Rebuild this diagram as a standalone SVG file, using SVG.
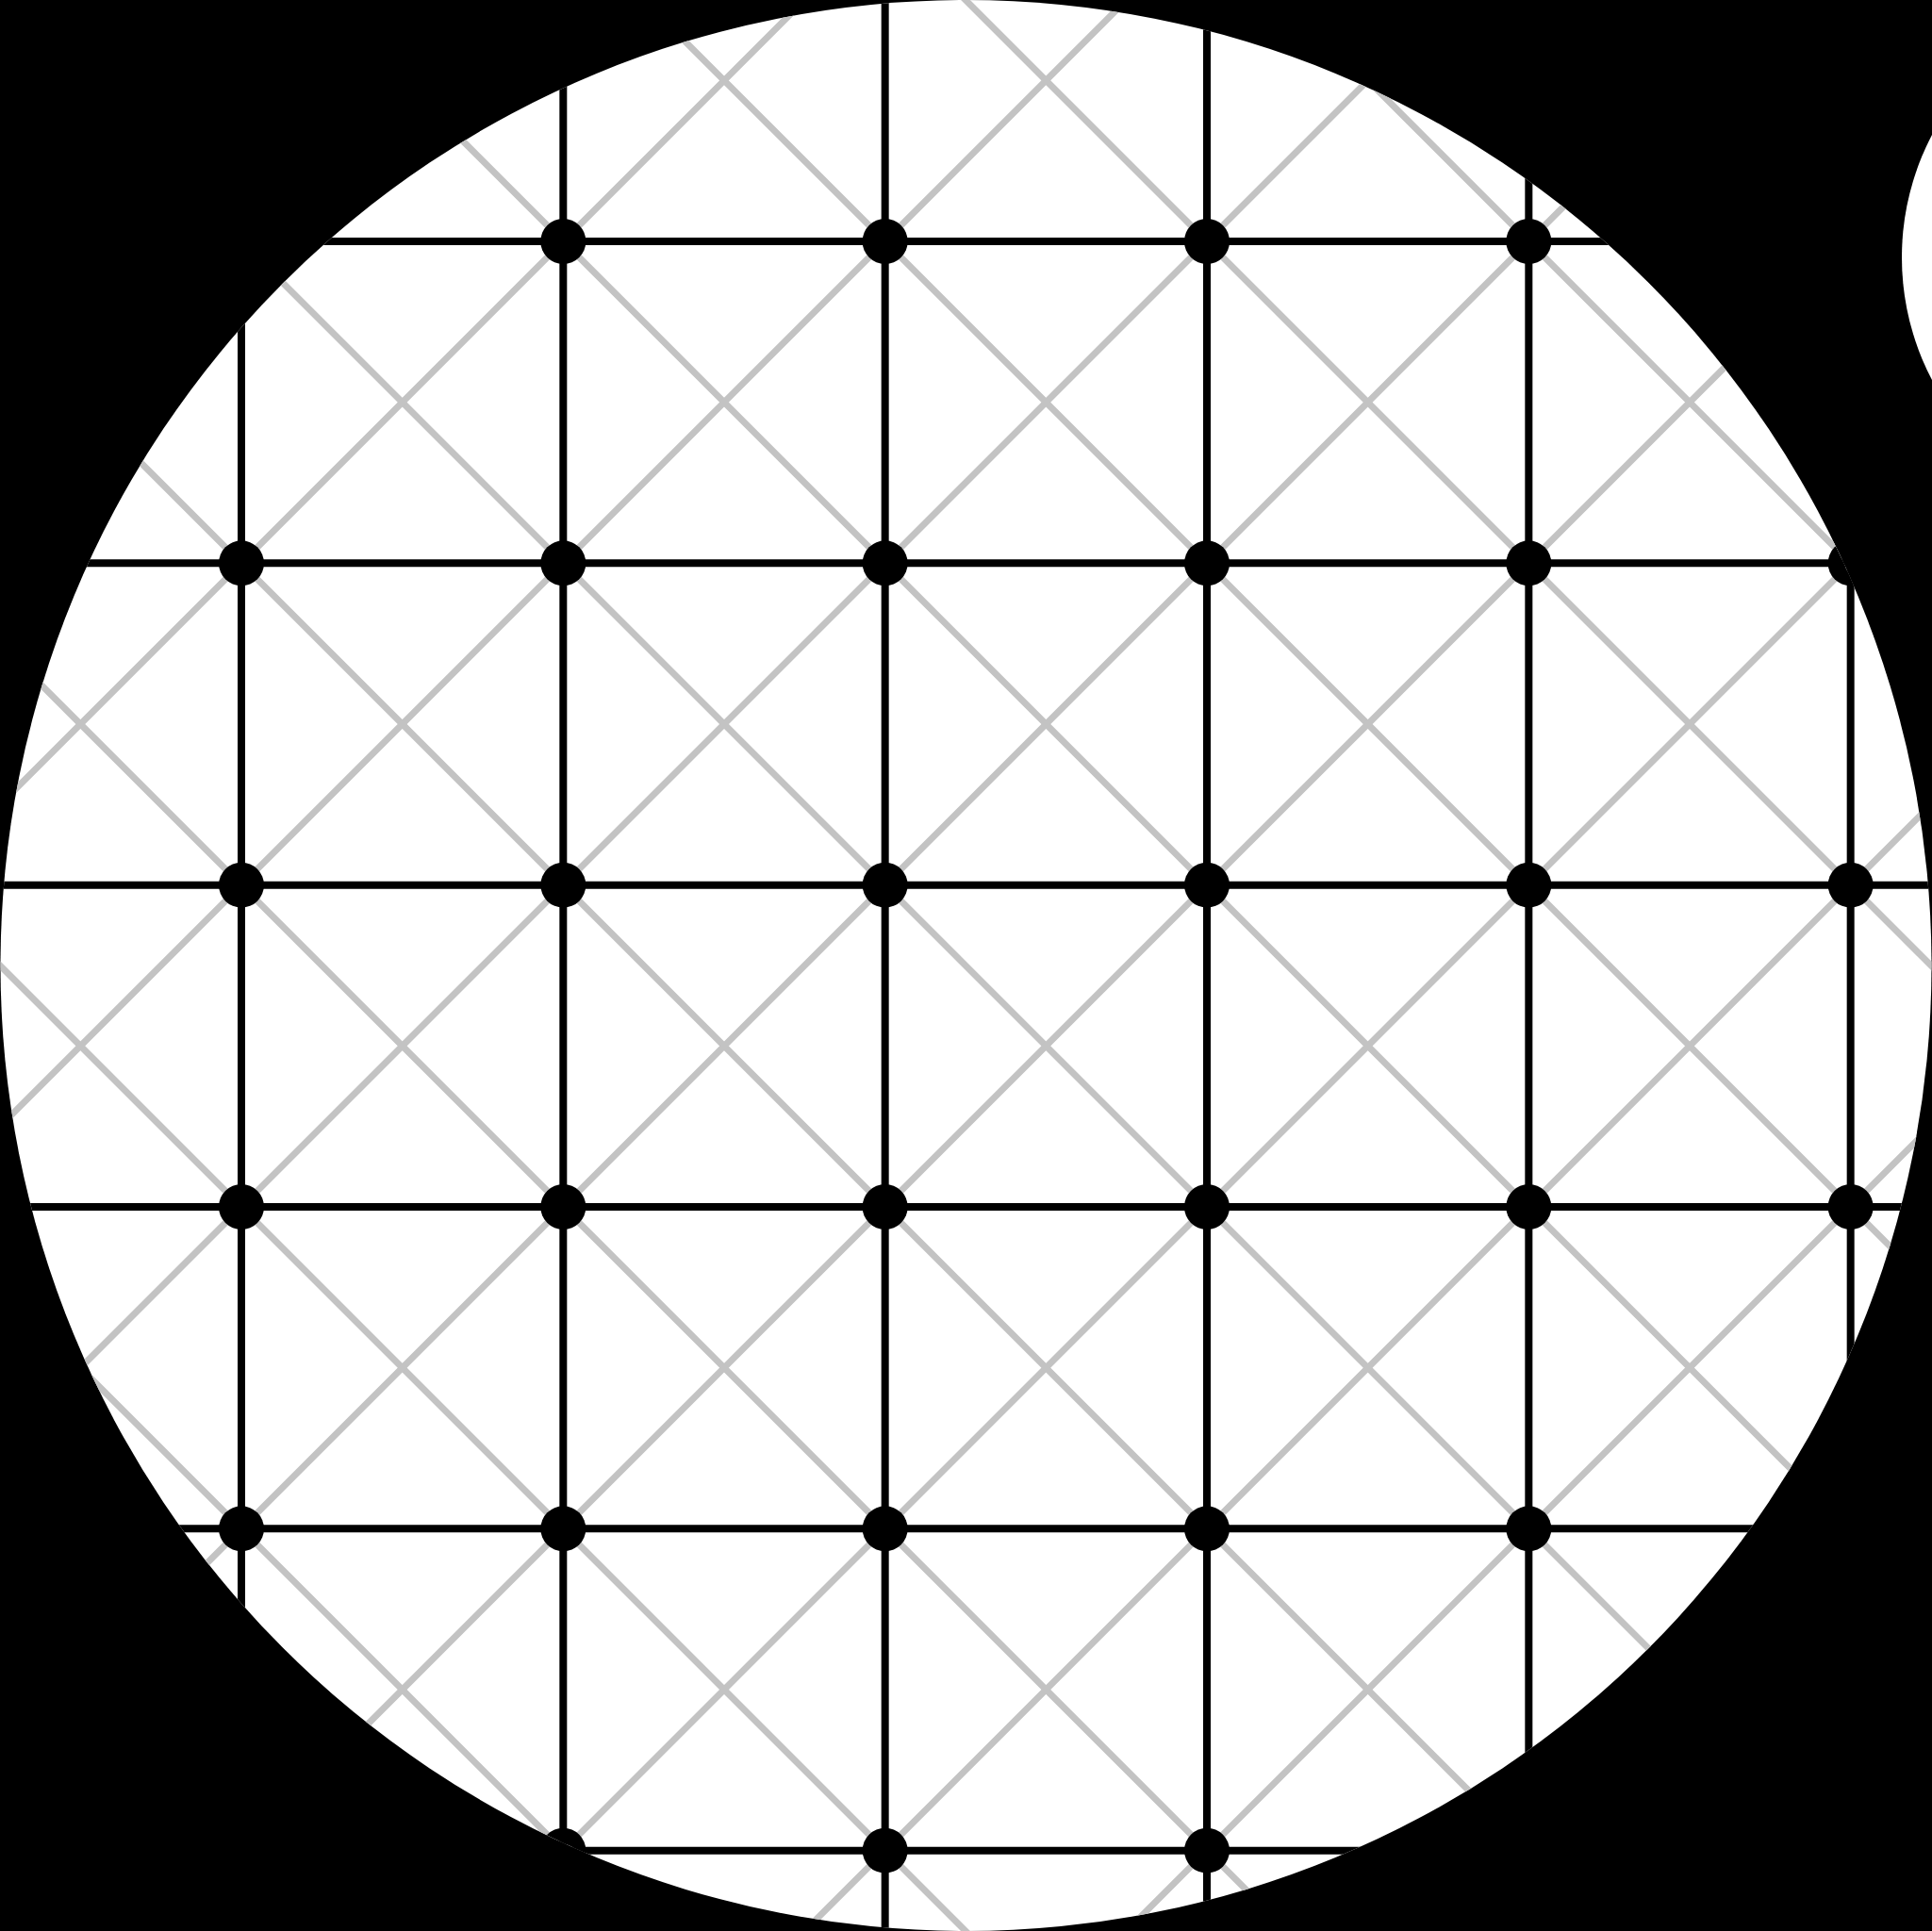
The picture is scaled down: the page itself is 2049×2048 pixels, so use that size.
<svg xmlns="http://www.w3.org/2000/svg" width="2049" height="2048" viewBox="0 0 2049 2048">
  <style>
    .grid { stroke: #000; stroke-width: 8; fill: none; }
    .diag { stroke: #c3c3c3; stroke-width: 7; fill: none; }
    .dot { fill: #000; }
  </style>
  <defs>
    <clipPath id="disc">
      <circle cx="1024.5" cy="1024" r="1024"/>
    </clipPath>
  </defs>
  <rect x="0" y="0" width="2049" height="2048" fill="#000"/>
  <circle cx="1024.5" cy="1024" r="1024" fill="#fff"/>
  <circle cx="2297" cy="273" r="280" fill="#fff"/>
  <g id="connectors" clip-path="url(#disc)">
    <g id="diagonals" class="diag">
      <path d="M-1465.33,-100 L2100,3465.33 M-1124,-100 L2100,3124 M-782.67,-100 L2100,2782.67 M-441.33,-100 L2100,2441.33 M-100,-100 L2200,2200 M241.33,-100 L2200,1858.67 M582.67,-100 L2200,1517.33 M924,-100 L2200,1176 M1265.33,-100 L2200,834.67"/>
      <path d="M612,-100 L-100,612 M953.33,-100 L-100,953.33 M1294.67,-100 L-100,1294.67 M1636,-100 L-100,1636 M1977.33,-100 L-100,1977.33 M2318.67,-100 L-100,2318.67 M2660,-100 L-100,2660 M2200,701.33 L-100,3001.33 M2200,1042.67 L-100,3342.67 M2200,1384 L-100,3684"/>
    </g>
    <g id="gridlines" class="grid">
      <path d="M256,0 V2048 M597.33,0 V2048 M938.67,0 V2048 M1280,0 V2048 M1621.33,0 V2048 M1962.67,0 V2048"/>
      <path d="M0,256 H2049 M0,597.33 H2049 M0,938.67 H2049 M0,1280 H2049 M0,1621.33 H2049 M0,1962.67 H2049"/>
    </g>
  </g>
  <g id="nodes" clip-path="url(#disc)">
    <g id="n-0-1"><circle class="dot" cx="256" cy="597.33" r="24"/></g>
    <g id="n-0-2"><circle class="dot" cx="256" cy="938.67" r="24"/></g>
    <g id="n-0-3"><circle class="dot" cx="256" cy="1280" r="24"/></g>
    <g id="n-0-4"><circle class="dot" cx="256" cy="1621.33" r="24"/></g>
    <g id="n-1-0"><circle class="dot" cx="597.33" cy="256" r="24"/></g>
    <g id="n-1-1"><circle class="dot" cx="597.33" cy="597.33" r="24"/></g>
    <g id="n-1-2"><circle class="dot" cx="597.33" cy="938.67" r="24"/></g>
    <g id="n-1-3"><circle class="dot" cx="597.33" cy="1280" r="24"/></g>
    <g id="n-1-4"><circle class="dot" cx="597.33" cy="1621.33" r="24"/></g>
    <g id="n-1-5"><circle class="dot" cx="597.33" cy="1962.67" r="24"/></g>
    <g id="n-2-0"><circle class="dot" cx="938.67" cy="256" r="24"/></g>
    <g id="n-2-1"><circle class="dot" cx="938.67" cy="597.33" r="24"/></g>
    <g id="n-2-2"><circle class="dot" cx="938.67" cy="938.67" r="24"/></g>
    <g id="n-2-3"><circle class="dot" cx="938.67" cy="1280" r="24"/></g>
    <g id="n-2-4"><circle class="dot" cx="938.67" cy="1621.33" r="24"/></g>
    <g id="n-2-5"><circle class="dot" cx="938.67" cy="1962.67" r="24"/></g>
    <g id="n-3-0"><circle class="dot" cx="1280" cy="256" r="24"/></g>
    <g id="n-3-1"><circle class="dot" cx="1280" cy="597.33" r="24"/></g>
    <g id="n-3-2"><circle class="dot" cx="1280" cy="938.67" r="24"/></g>
    <g id="n-3-3"><circle class="dot" cx="1280" cy="1280" r="24"/></g>
    <g id="n-3-4"><circle class="dot" cx="1280" cy="1621.33" r="24"/></g>
    <g id="n-3-5"><circle class="dot" cx="1280" cy="1962.67" r="24"/></g>
    <g id="n-4-0"><circle class="dot" cx="1621.33" cy="256" r="24"/></g>
    <g id="n-4-1"><circle class="dot" cx="1621.33" cy="597.33" r="24"/></g>
    <g id="n-4-2"><circle class="dot" cx="1621.33" cy="938.67" r="24"/></g>
    <g id="n-4-3"><circle class="dot" cx="1621.33" cy="1280" r="24"/></g>
    <g id="n-4-4"><circle class="dot" cx="1621.33" cy="1621.33" r="24"/></g>
    <g id="n-5-1"><circle class="dot" cx="1962.67" cy="597.33" r="24"/></g>
    <g id="n-5-2"><circle class="dot" cx="1962.67" cy="938.67" r="24"/></g>
    <g id="n-5-3"><circle class="dot" cx="1962.67" cy="1280" r="24"/></g>
  </g>
</svg>
